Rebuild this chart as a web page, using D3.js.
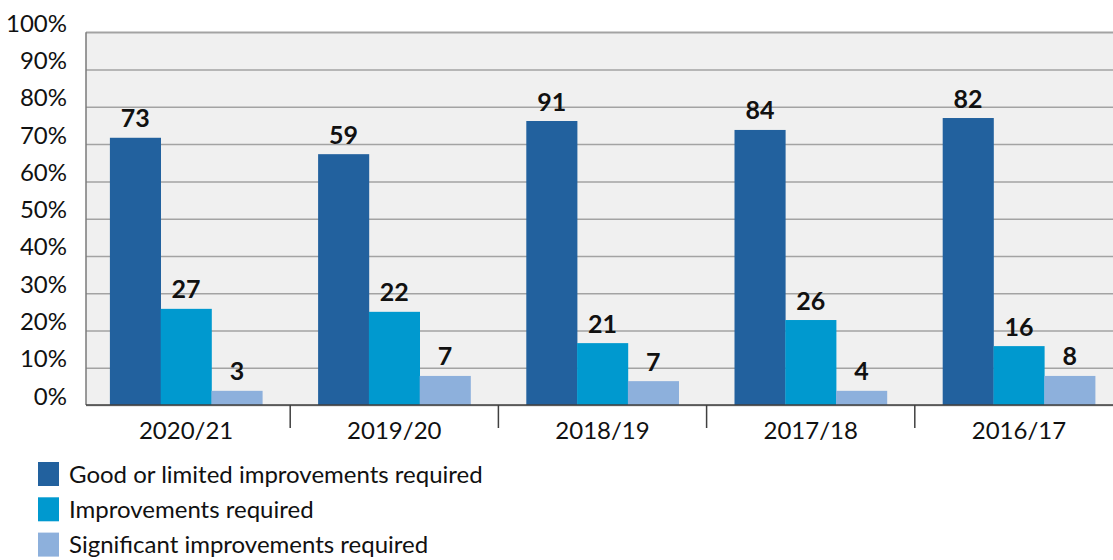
<!DOCTYPE html>
<html>
<head>
<meta charset="utf-8">
<script src="https://cdn.jsdelivr.net/npm/d3@7"></script>
<style>
  html, body { margin: 0; padding: 0; background: #ffffff; }
  svg { display: block; }
  text { font-family: Lato, "Open Sans", sans-serif; fill: #111111; }
</style>
</head>
<body>
<svg id="chart" width="1113" height="560"></svg>
<script>
const categories = ["2020/21", "2019/20", "2018/19", "2017/18", "2016/17"];
const seriesNames = ["Good or limited improvements required", "Improvements required", "Significant improvements required"];
const seriesColors = ["#22619e", "#0099cf", "#8db0dc"];
// bar heights in percent
const goodPct = [71.7, 67.3, 76.2, 73.8, 77.0];
const improvePct = [25.8, 25.0, 16.6, 22.8, 15.8];
const sigPct = [3.8, 7.8, 6.4, 3.8, 7.8];
// labels shown on bars (counts)
const goodCount = [73, 59, 91, 84, 82];
const improveCount = [27, 22, 21, 26, 16];
const sigCount = [3, 7, 7, 4, 8];
const yTicks = [0, 10, 20, 30, 40, 50, 60, 70, 80, 90, 100];

const pctSeries = [goodPct, improvePct, sigPct];
const countSeries = [goodCount, improveCount, sigCount];

const FONT = "Lato, 'Open Sans', sans-serif";
const svg = d3.select("#chart");
const plotLeft = 86, plotRight = 1113, plotTop = 32.3, plotBottom = 405;

const y = d3.scaleLinear().domain([0, 100]).range([plotBottom, plotTop]);
const x = d3.scaleBand().domain(categories).range([82, 1123]).padding(0);
const groupW = 152.4;
const xs = d3.scaleBand().domain(d3.range(seriesNames.length)).range([0, groupW]).padding(0);

// background
svg.append("rect").attr("x", plotLeft).attr("y", plotTop)
  .attr("width", plotRight - plotLeft).attr("height", plotBottom - plotTop)
  .attr("fill", "#f0f0f0");

// gridlines + y labels
const yAxis = d3.axisLeft(y).tickValues(yTicks).tickFormat(d => d + "%")
  .tickSize(-(plotRight - plotLeft)).tickPadding(19);
const gy = svg.append("g").attr("transform", `translate(${plotLeft},0)`).call(yAxis);
gy.select(".domain").remove();
gy.selectAll(".tick line").attr("stroke", "#a3a3a3").attr("stroke-width", 1.5);
gy.selectAll(".tick text")
  .attr("font-size", 24).attr("fill", "#111").attr("dy", "-0.04em")
  .attr("font-family", FONT);
svg.append("line").attr("x1", plotLeft).attr("x2", plotRight)
  .attr("y1", plotTop).attr("y2", plotTop).attr("stroke", "#a3a3a3").attr("stroke-width", 1.5);
svg.append("line").attr("x1", plotLeft).attr("x2", plotLeft)
  .attr("y1", plotTop).attr("y2", plotBottom).attr("stroke", "#7a7a7a").attr("stroke-width", 1.5);

// bars
const groups = svg.append("g").selectAll("g").data(categories).join("g")
  .attr("transform", c => `translate(${x(c) + x.bandwidth() / 2 - groupW / 2},0)`);

groups.each(function (c, ci) {
  const g = d3.select(this);
  pctSeries.forEach((arr, si) => {
    g.append("rect")
      .attr("x", xs(si))
      .attr("y", y(arr[ci]))
      .attr("width", xs.bandwidth() + 0.3)
      .attr("height", y(0) - y(arr[ci]))
      .attr("fill", seriesColors[si]);
    g.append("text")
      .attr("x", xs(si) + xs.bandwidth() / 2)
      .attr("y", y(arr[ci]) - 10.5)
      .attr("text-anchor", "middle")
      .attr("font-size", 25)
      .attr("font-weight", 700)
      .text(countSeries[si][ci]);
  });
});

// x axis
const xAxis = d3.axisBottom(x).tickSize(0).tickPadding(17);
const gx = svg.append("g").attr("transform", `translate(0,${plotBottom})`).call(xAxis);
gx.select(".domain").remove();
gx.selectAll(".tick text").attr("font-size", 24).attr("fill", "#111")
  .attr("font-family", FONT);
svg.append("line").attr("x1", plotLeft).attr("x2", plotRight)
  .attr("y1", plotBottom).attr("y2", plotBottom).attr("stroke", "#404040").attr("stroke-width", 1.5);
const boundaries = categories.slice(1).map(c => x(c));
svg.append("g").selectAll("line").data(boundaries).join("line")
  .attr("x1", d => d).attr("x2", d => d)
  .attr("y1", plotBottom).attr("y2", plotBottom + 23)
  .attr("stroke", "#404040").attr("stroke-width", 1.5);

// legend
const leg = svg.append("g").selectAll("g").data(seriesNames).join("g")
  .attr("transform", (d, i) => `translate(38,${462 + i * 35.3})`);
leg.append("rect").attr("width", 21).attr("height", 24)
  .attr("fill", (d, i) => seriesColors[i]);
leg.append("text").attr("x", 31).attr("y", 20.5)
  .attr("font-size", 24).text(d => d);
</script>
</body>
</html>
